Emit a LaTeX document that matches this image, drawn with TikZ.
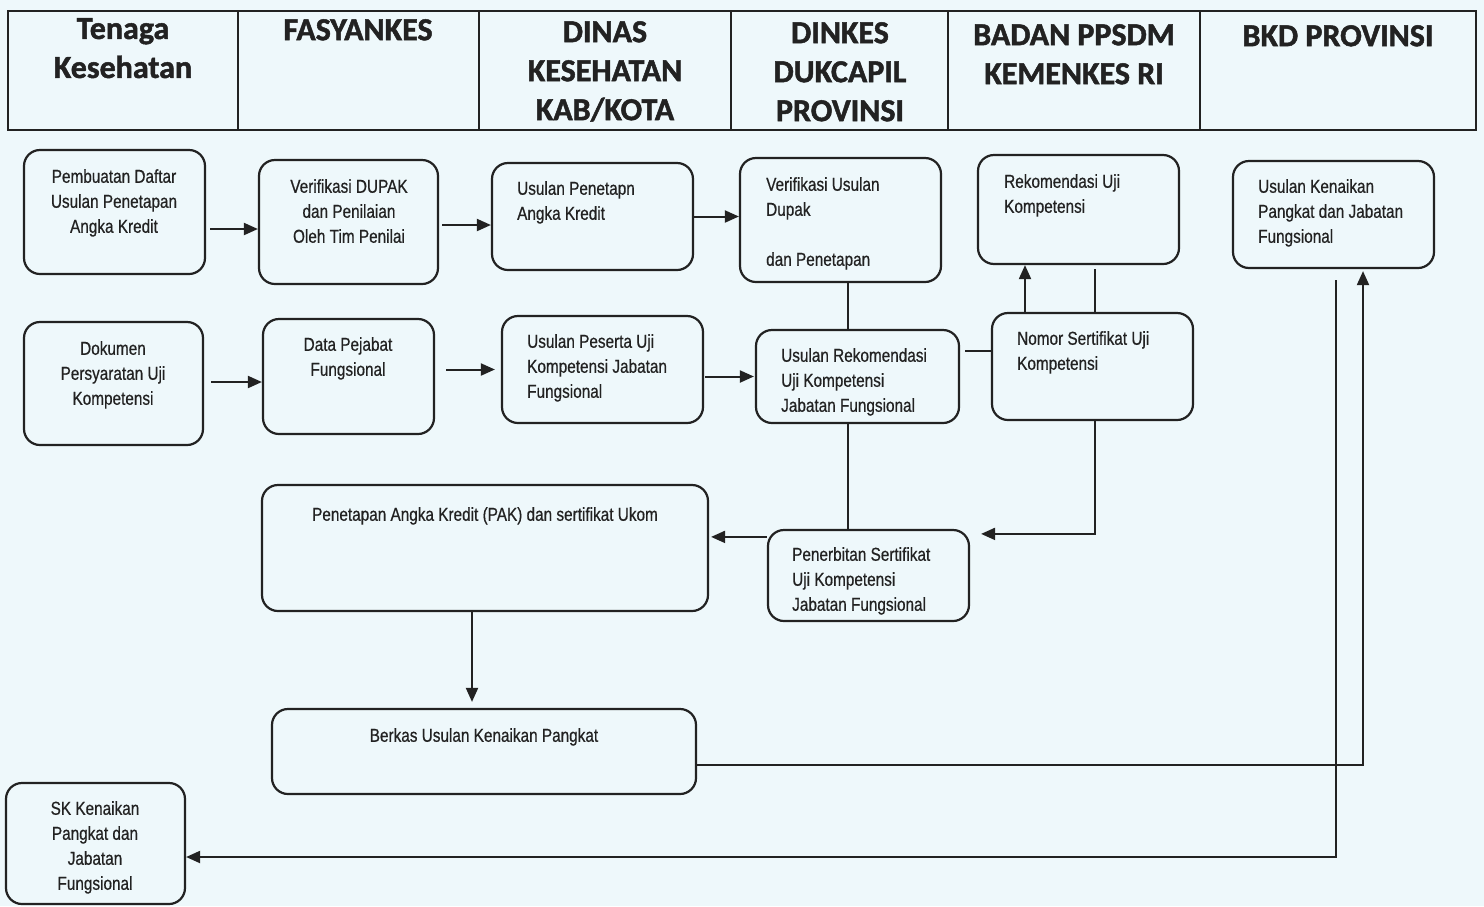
\documentclass[tikz,border=0pt]{standalone}
\usepackage{fontspec}
\newfontfamily\headfont{Carlito}[BoldFeatures={FakeBold=1.5}]
\newfontfamily\boxfont{Liberation Sans}[FakeStretch=0.82, FakeBold=0.6]
\usetikzlibrary{arrows.meta,calc}
\definecolor{bgblue}{RGB}{238,248,251}
\definecolor{ink}{RGB}{34,34,34}

\begin{document}
\begin{tikzpicture}[x=1pt,y=1pt,yscale=-1,
  box/.style={draw=ink, line width=2.2, rounded corners=16, inner sep=0},
  txt/.style={font={\boxfont\fontsize{18.7}{25}\selectfont}, text=ink, inner sep=0},
  head/.style={font={\headfont\bfseries\fontsize{32}{39}\selectfont}, text=ink, align=center, inner sep=0, anchor=north},
  hdr/.style={draw=ink, line width=1.8},
  conn/.style={draw=ink, line width=2},
  arr/.style={conn, -{Triangle[length=14pt,width=12pt]}}]
\path[use as bounding box, fill=bgblue] (0,0) rectangle (1484,906);

%Header table
\draw[hdr] (8,11) rectangle (1476,130);
\draw[hdr] (238,11) -- (238,130);
\draw[hdr] (479,11) -- (479,130);
\draw[hdr] (731,11) -- (731,130);
\draw[hdr] (948,11) -- (948,130);
\draw[hdr] (1200,11) -- (1200,130);
\node[head] (h1) at (123,18) {Tenaga\\Kesehatan};
\node[head] (h2) at (358,19) {FASYANKES};
\node[head] (h3) at (605,21) {DINAS\\KESEHATAN\\KAB/KOTA};
\node[head] (h4) at (840,22) {DINKES\\DUKCAPIL\\PROVINSI};
\node[head] (h5) at (1074,24) {BADAN PPSDM\\KEMENKES RI};
\node[head] (h6) at (1338,25) {BKD PROVINSI};

%Row 1
\node[box, minimum width=181, minimum height=124] (b1) at (114.5,212) {};
\node[txt, anchor=north, align=center] (t1) at (114,169) {Pembuatan Daftar\\Usulan Penetapan\\Angka Kredit};
\node[box, minimum width=179, minimum height=124] (b2) at (348.5,222) {};
\node[txt, anchor=north, align=center] (t2) at (349,179) {Verifikasi DUPAK\\dan Penilaian\\Oleh Tim Penilai};
\node[box, minimum width=201, minimum height=107] (b3) at (592.5,216.5) {};
\node[txt, anchor=north west, align=left] (t3) at (517,181) {Usulan Penetapn\\Angka Kredit};
\node[box, minimum width=201, minimum height=124] (b4) at (840.5,220) {};
\node[txt, anchor=north west, align=left] (t4) at (766,177) {Verifikasi Usulan\\Dupak\\[25pt]dan Penetapan};
\node[box, minimum width=201, minimum height=109] (b5) at (1078.5,209.5) {};
\node[txt, anchor=north west, align=left] (t5) at (1004,174) {Rekomendasi Uji\\Kompetensi};
\node[box, minimum width=201, minimum height=107] (b6) at (1333.5,214.5) {};
\node[txt, anchor=north west, align=left] (t6) at (1258,179) {Usulan Kenaikan\\Pangkat dan Jabatan\\Fungsional};

%Row 2
\node[box, minimum width=179, minimum height=123] (b7) at (113.5,383.5) {};
\node[txt, anchor=north, align=center] (t7) at (113,341) {Dokumen\\Persyaratan Uji\\Kompetensi};
\node[box, minimum width=171, minimum height=115] (b8) at (348.5,376.5) {};
\node[txt, anchor=north, align=center] (t8) at (348,337) {Data Pejabat\\Fungsional};
\node[box, minimum width=201, minimum height=107] (b9) at (602.5,369.5) {};
\node[txt, anchor=north west, align=left] (t9) at (527,334) {Usulan Peserta Uji\\Kompetensi Jabatan\\Fungsional};
\node[box, minimum width=203, minimum height=93] (b10) at (857.5,376.5) {};
\node[txt, anchor=north west, align=left] (t10) at (781,348) {Usulan Rekomendasi\\Uji Kompetensi\\Jabatan Fungsional};
\node[box, minimum width=201, minimum height=107] (b11) at (1092.5,366.5) {};
\node[txt, anchor=north west, align=left] (t11) at (1017,331) {Nomor Sertifikat Uji\\Kompetensi};

%Row 3
\node[box, minimum width=446, minimum height=126] (b12) at (485,548) {};
\node[txt, anchor=north] (t12) at (485,507) {Penetapan Angka Kredit (PAK) dan sertifikat Ukom};
\node[box, minimum width=201, minimum height=91] (b13) at (868.5,575.5) {};
\node[txt, anchor=north west, align=left] (t13) at (792,547) {Penerbitan Sertifikat\\Uji Kompetensi\\Jabatan Fungsional};

%Row 4
\node[box, minimum width=424, minimum height=85] (b14) at (484,751.5) {};
\node[txt, anchor=north] (t14) at (484,728) {Berkas Usulan Kenaikan Pangkat};
\node[box, minimum width=179, minimum height=121] (b15) at (95.5,843.5) {};
\node[txt, anchor=north, align=center] (t15) at (95,801) {SK Kenaikan\\Pangkat dan\\Jabatan\\Fungsional};

%Arrows row 1
\draw[arr] ($(b1.east |- b2.west)+(4,7)$) -- ($(b2.west)+(0,7)$);
\draw[arr] ($(b2.east)+(3,3)$) -- ($(b2.east -| b3.west)+(0,3)$);
\draw[arr] (b3.east) -- (b3.east -| b4.west);

%Arrows row 2
\draw[arr] ($(b7.east)+(7,-1.5)$) -- ($(b7.east -| b8.west)+(0,-1.5)$);
\draw[arr] ($(b8.east |- b9.west)+(11,0)$) -- ($(b9.west)+(-6,0)$);
\draw[arr] ($(b9.east |- b10.west)+(1,0)$) -- ($(b10.west)+(-1,0)$);

%Dinkes - PPSDM links
\draw[conn] ($(b10.north |- b4.south)+(-9.5,0)$) -- ($(b10.north)+(-9.5,0)$);
\draw[conn] ($(b10.east)+(5,-26)$) -- ($(b10.east -| b11.west)+(0,-26)$);
\draw[arr] ($(b11.north)+(-67.5,0)$) -- ($(b11.north |- b5.south)+(-67.5,0)$);
\draw[conn] ($(b11.north)+(2.5,0)$) -- ($(b11.north |- b5.south)+(2.5,4)$);
\draw[conn] ($(b10.south)+(-9.5,0)$) -- ($(b10.south |- b13.north)+(-9.5,0)$);
\draw[arr] ($(b11.south)+(2.5,0)$) |- ($(b13.north east)+(11,5)$);
\draw[arr] ($(b13.north west)+(0,8)$) -- ($(b13.north west -| b12.east)+(2,8)$);

%PAK - Berkas - BKD - SK
\draw[arr] ($(b12.south)+(-13,0)$) -- ($(b12.south |- b14.north)+(-13,-6)$);
\draw[arr] ($(b14.east)+(0,13.5)$) -| ($(b6.south)+(29.5,2)$);
\draw[arr] ($(b6.south)+(2.5,11)$) |- ($(b15.east)+(0,13.5)$);

\end{tikzpicture}
\end{document}
